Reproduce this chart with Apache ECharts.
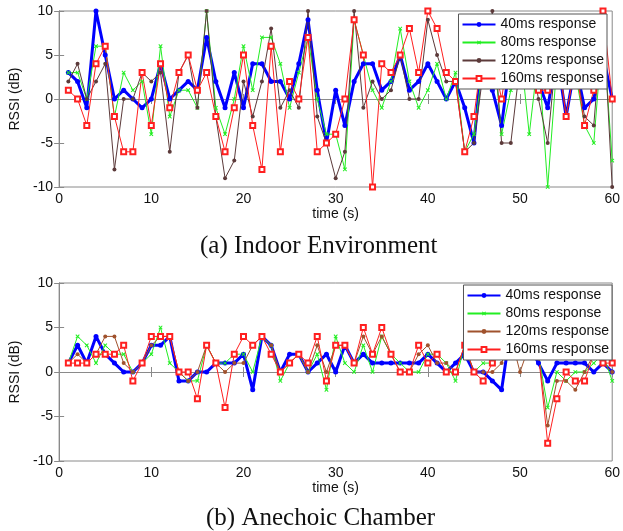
<!DOCTYPE html>
<html>
<head>
<meta charset="utf-8">
<script src="https://cdn.jsdelivr.net/npm/echarts@6/dist/echarts.min.js"></script>
<style>
  html, body { margin: 0; padding: 0; background: #fff; }
  #chart { width: 623px; height: 531px; }
</style>
</head>
<body>
<div id="chart"></div>
<script>
// time axis (s)
const times = [1,2,3,4,5,6,7,8,9,10,11,12,13,14,15,16,17,18,19,20,
  21,22,23,24,25,26,27,28,29,30,31,32,33,34,35,36,37,38,39,40,
  41,42,43,44,45,46,47,48,49,50,51,52,53,54,55,56,57,58,59,60]

// (a) indoor environment, RSSI in dB
const indoor40 = [3,2,-1,10,5,0,1,0,-1,0,4,0,1,2,1,7,2,-1,3,-1,
  4,4,2,2,0,4,9,1,-5,1,-3,2,4,4,1,2,5,1,2,4,
  2,0,2,-1,-5,6,1,-3,5,4,3,2,-1,5,-2,4,-1,0,5,0]
const indoor80 = [3,3,0,6,6,-2,3,1,2,-4,6,-2,1,1,-1,10,-1,-4,0,6,
  1,7,7,4,-1,3,7,0,-4,-4,-8,9,5,1,-1,2,8,2,-1,1,
  4,0,3,-6,-4,4,7,-4,1,6,-4,5,-10,4,2,3,-3,-5,8,-7]
const indoor120 = [2,4,0,2,4,-8,0,0,3,2,3,-6,3,5,-1,10,-2,-9,-7,2,
  -2,2,8,-1,1,-1,10,-2,-5,-9,-6,10,-1,2,0,1,5,0,0,9,
  5,2,2,-6,-5,3,10,-5,-5,4,6,0,-5,6,-2,4,-2,-3,10,-10]
const indoor160 = [1,0,-3,4,6,-2,-6,-6,3,-3,4,-1,3,5,1,3,-2,-6,-1,5,
  -3,-8,6,-6,2,0,7,-6,-5,-4,0,9,5,-10,4,3,5,8,3,10,
  8,3,2,-6,-2,6,5,0,7,6,5,1,1,6,-2,4,-3,1,10,0]

// (b) anechoic chamber, RSSI in dB
const chamber40 = [1,3,1,4,2,1,0,0,1,3,3,4,-1,-1,0,0,1,1,1,2,
  -2,4,3,0,2,2,0,1,2,0,3,1,2,1,1,1,1,1,1,2,
  1,0,1,2,0,0,-1,-2,5,4,3,1,-1,1,1,1,1,0,1,0]
const chamber80 = [1,4,3,1,3,2,2,0,1,2,5,1,0,-1,-1,3,1,1,2,2,
  0,4,3,-1,1,2,0,2,-2,4,1,0,3,0,4,2,1,0,0,2,
  2,1,-1,3,0,1,1,2,3,4,3,2,-4,0,-1,0,0,1,2,-1]
const chamber120 = [1,2,1,2,4,4,1,0,1,3,4,4,0,-1,0,3,1,0,1,1,
  3,4,3,0,1,2,0,3,0,3,3,1,4,2,4,2,0,0,2,3,
  1,1,0,3,0,0,0,1,4,0,3,2,-6,-1,-1,-2,0,2,1,0]
const chamber160 = [1,1,1,2,2,2,3,-1,1,4,4,4,0,0,-3,3,1,-4,2,4,
  3,4,2,0,1,2,1,4,-1,3,3,1,5,2,5,2,0,0,3,1,
  2,0,0,3,0,-1,1,3,4,3,4,2,-8,-3,0,-1,-1,2,1,1]

const legendNames = ['40ms response', '80ms response', '120ms response', '160ms response']
const xTicks = [0, 10, 20, 30, 40, 50, 60]
const yTicks = [-10, -5, 0, 5, 10]

const labelMap = {
  a40: legendNames[0], a80: legendNames[1], a120: legendNames[2], a160: legendNames[3],
  b40: legendNames[0], b80: legendNames[1], b120: legendNames[2], b160: legendNames[3],
}

const font = 'Liberation Sans, Arial, sans-serif'
const xPath = 'path://M4,0H6V4H10V6H6V10H4V6H0V4H4Z'

function pairs(vals) {
  return vals.map((v, i) => [times[i], v])
}

function xAxes(gridIndex) {
  const base = {
    gridIndex,
    type: 'value',
    min: xTicks[0],
    max: xTicks[xTicks.length - 1],
    interval: 10,
    splitLine: { show: false },
    axisLine: { show: true, lineStyle: { color: '#8a8a8a', width: 1 } },
    axisTick: { show: true, inside: true, length: 5, lineStyle: { color: '#8a8a8a' } },
  }
  return [
    {
      ...base,
      position: 'bottom',
      name: 'time (s)',
      nameLocation: 'middle',
      nameGap: 20,
      nameTextStyle: { color: '#111', fontSize: 14, fontFamily: font },
      axisLabel: { color: '#111', fontSize: 14, fontFamily: font, margin: 5 },
    },
    { ...base, position: 'top', axisLabel: { show: false } },
  ]
}

function yAxes(gridIndex) {
  const base = {
    gridIndex,
    type: 'value',
    min: yTicks[0],
    max: yTicks[yTicks.length - 1],
    interval: 5,
    splitLine: { show: false },
    axisLine: { show: true, lineStyle: { color: '#8a8a8a', width: 1 } },
    axisTick: { show: true, inside: true, length: 5, lineStyle: { color: '#8a8a8a' } },
  }
  return [
    {
      ...base,
      position: 'left',
      name: 'RSSI (dB)',
      nameLocation: 'middle',
      nameGap: 30,
      nameTextStyle: { color: '#111', fontSize: 14, fontFamily: font },
      axisLabel: { color: '#111', fontSize: 14, fontFamily: font, margin: 6 },
    },
    { ...base, position: 'right', axisLabel: { show: false } },
  ]
}

function makeSeries(prefix, axisBase, data, brown) {
  const common = { type: 'line', clip: false, xAxisIndex: axisBase, yAxisIndex: axisBase, animation: false }
  return [
    { ...common, name: prefix + '40', data: pairs(data[0]), symbol: 'circle', symbolSize: 5,
      itemStyle: { color: '#0000ff' }, lineStyle: { color: '#0000ff', width: 3 } },
    { ...common, name: prefix + '80', data: pairs(data[1]), symbol: xPath, symbolSize: 5, symbolRotate: 45,
      itemStyle: { color: '#22ee22' }, lineStyle: { color: '#22ee22', width: 1 } },
    { ...common, name: prefix + '120', data: pairs(data[2]), symbol: 'circle', symbolSize: 4,
      itemStyle: { color: brown }, lineStyle: { color: brown, width: 1 } },
    { ...common, name: prefix + '160', data: pairs(data[3]), symbol: 'emptyRect', symbolSize: 5,
      itemStyle: { color: '#ff2020', borderWidth: 1 }, lineStyle: { color: '#ff2020', width: 1 } },
  ]
}

function makeLegend(prefix, top, right) {
  return {
    data: ['40', '80', '120', '160'].map(k => prefix + k),
    formatter: name => labelMap[name],
    orient: 'vertical',
    right,
    top,
    itemWidth: 33,
    itemHeight: 6,
    itemGap: 3,
    padding: [3, 3, 3, 3],
    backgroundColor: '#fff',
    borderColor: '#555',
    borderWidth: 1,
    borderRadius: 0,
    textStyle: { color: '#111', fontSize: 14, fontFamily: font, lineHeight: 15 },
  }
}

const captionStyle = { fontFamily: 'Liberation Serif, serif', fontSize: 25, fontWeight: 'normal', color: '#111' }

const chart = echarts.init(document.getElementById('chart'))
chart.setOption({
  backgroundColor: '#fff',
  animation: false,
  grid: [
    { left: 51, right: 10, top: 11, height: 176, show: true, borderColor: '#8a8a8a', borderWidth: 1 },
    { left: 51, right: 9, top: 283, height: 178, show: true, borderColor: '#8a8a8a', borderWidth: 1 },
  ],
  xAxis: [...xAxes(0), ...xAxes(1)],
  yAxis: [...yAxes(0), ...yAxes(1)],
  legend: [makeLegend('a', 14, 16), makeLegend('b', 285, 11)],
  title: [
    { text: '(a) Indoor Environment', left: 200, top: 234, padding: 0, textStyle: captionStyle },
    { text: '(b) Anechoic Chamber', left: 206, top: 506, padding: 0, textStyle: captionStyle },
  ],
  series: [
    ...makeSeries('a', 0, [indoor40, indoor80, indoor120, indoor160], '#5c3a3a'),
    ...makeSeries('b', 2, [chamber40, chamber80, chamber120, chamber160], '#a0522d'),
  ],
})
</script>
</body>
</html>
